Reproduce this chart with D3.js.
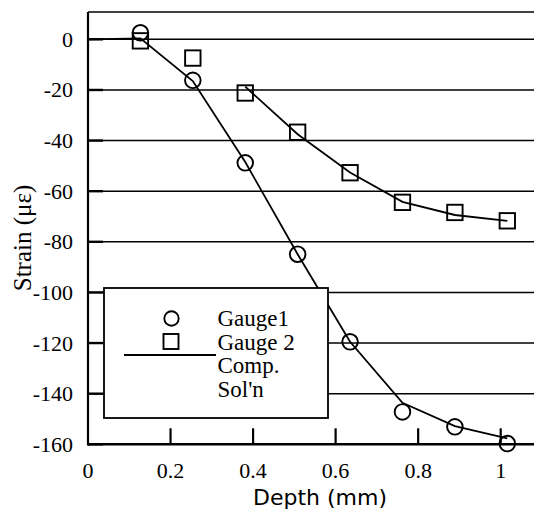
<!DOCTYPE html>
<html>
<head>
<meta charset="utf-8">
<script src="https://cdn.jsdelivr.net/npm/d3@7"></script>
<style>
  body { margin: 0; background: #fff; }
  svg { display: block; }
</style>
</head>
<body>
<svg></svg>
<script>
const width = 534;
const height = 514;

// measured depths (mm) and strains (micro-strain)
const depth = [0.127, 0.254, 0.381, 0.508, 0.635, 0.762, 0.889, 1.016];
const gauge1 = [2.6, -16.2, -48.8, -84.9, -119.5, -147.2, -153.1, -159.7];
const gauge2 = [-0.6, -7.4, -21.2, -36.7, -52.7, -64.4, -68.4, -71.7];

// computed solution
const compDepth1 = [0, 0.127, 0.254, 0.381, 0.508, 0.635, 0.762, 0.889, 1.016];
const comp1 = [0, 0.4, -16.5, -48.5, -84.9, -119.5, -143.6, -152.8, -157.7];
const compDepth2 = [0.381, 0.508, 0.635, 0.762, 0.889, 1.016];
const comp2 = [-18.7, -37.5, -52.6, -64.2, -69.4, -71.7];

const xTicks = [0, 0.2, 0.4, 0.6, 0.8, 1];
const yTicks = [0, -20, -40, -60, -80, -100, -120, -140, -160];
const legendLabels = ['Gauge1', 'Gauge 2', 'Comp.', "Sol'n"];

const serif = '"Liberation Serif", "Times New Roman", serif';
const sans = '"DejaVu Sans", sans-serif';

const svg = d3.select('svg').attr('width', width).attr('height', height);

const x = d3.scaleLinear().domain([0, 1.0807]).range([88, 534]);
const y = d3.scaleLinear().domain([-160, 10.8]).range([444.3, 12]);

// grid lines
svg.append('g')
    .selectAll('line')
    .data(yTicks.slice(0, -1))
    .join('line')
    .attr('x1', x(0)).attr('x2', width)
    .attr('y1', function (d) { return y(d); })
    .attr('y2', function (d) { return y(d); })
    .attr('stroke', '#000')
    .attr('stroke-width', 1.5);

// top frame line
svg.append('line')
    .attr('x1', x(0)).attr('x2', width)
    .attr('y1', y.range()[1]).attr('y2', y.range()[1])
    .attr('stroke', '#000').attr('stroke-width', 1.5);

// computed curves
const line = d3.line()
    .x(function (d) { return x(d[0]); })
    .y(function (d) { return y(d[1]); });

[d3.zip(compDepth1, comp1), d3.zip(compDepth2, comp2)].forEach(function (pts) {
    svg.append('path')
        .datum(pts)
        .attr('d', line)
        .attr('fill', 'none')
        .attr('stroke', '#000')
        .attr('stroke-width', 1.8);
});

// gauge 1 circles
svg.append('g')
    .selectAll('circle')
    .data(d3.zip(depth, gauge1))
    .join('circle')
    .attr('cx', function (d) { return x(d[0]); })
    .attr('cy', function (d) { return y(d[1]); })
    .attr('r', 7.8)
    .attr('fill', 'none')
    .attr('stroke', '#000')
    .attr('stroke-width', 1.9);

// gauge 2 squares
const sq = 15.4;
svg.append('g')
    .selectAll('rect')
    .data(d3.zip(depth, gauge2))
    .join('rect')
    .attr('x', function (d) { return x(d[0]) - sq / 2; })
    .attr('y', function (d) { return y(d[1]) - sq / 2; })
    .attr('width', sq).attr('height', sq)
    .attr('fill', 'none')
    .attr('stroke', '#000')
    .attr('stroke-width', 1.9);

// legend
const legend = svg.append('g');
legend.append('rect')
    .attr('x', 104).attr('y', 288)
    .attr('width', 224).attr('height', 130)
    .attr('fill', '#fff')
    .attr('stroke', '#000')
    .attr('stroke-width', 1.8);
legend.append('circle')
    .attr('cx', 171.5).attr('cy', 318.5).attr('r', 7.2)
    .attr('fill', 'none').attr('stroke', '#000').attr('stroke-width', 1.9);
legend.append('rect')
    .attr('x', 171 - 7.5).attr('y', 341.5 - 7.5)
    .attr('width', 15).attr('height', 15)
    .attr('fill', 'none').attr('stroke', '#000').attr('stroke-width', 1.9);
legend.append('line')
    .attr('x1', 124).attr('x2', 216)
    .attr('y1', 355).attr('y2', 355)
    .attr('stroke', '#000').attr('stroke-width', 1.8);
legend.selectAll('text')
    .data(legendLabels)
    .join('text')
    .attr('x', 217.5)
    .attr('y', function (d, i) { return 326 + i * 23.6; })
    .attr('font-family', serif)
    .attr('font-size', 23)
    .text(function (d) { return d; });

// axes lines
svg.append('line')
    .attr('x1', x(0)).attr('x2', x(0))
    .attr('y1', y.range()[1]).attr('y2', y(-160) + 1.2)
    .attr('stroke', '#000').attr('stroke-width', 2.2);
svg.append('line')
    .attr('x1', x(0)).attr('x2', width)
    .attr('y1', y(-160)).attr('y2', y(-160))
    .attr('stroke', '#000').attr('stroke-width', 2.5);

// y ticks and labels
svg.append('g')
    .selectAll('line')
    .data(yTicks)
    .join('line')
    .attr('x1', x(0)).attr('x2', x(0) + 15)
    .attr('y1', function (d) { return y(d); })
    .attr('y2', function (d) { return y(d); })
    .attr('stroke', '#000').attr('stroke-width', 2.4);
svg.append('g')
    .selectAll('text')
    .data(yTicks)
    .join('text')
    .attr('x', 73)
    .attr('y', function (d) { return y(d); })
    .attr('dy', '0.34em')
    .attr('text-anchor', 'end')
    .attr('font-family', serif)
    .attr('font-size', 22)
    .text(function (d) { return d; });

// x ticks and labels
svg.append('g')
    .selectAll('line')
    .data(xTicks.slice(1))
    .join('line')
    .attr('x1', function (d) { return x(d); })
    .attr('x2', function (d) { return x(d); })
    .attr('y1', y(-160)).attr('y2', y(-160) - 16)
    .attr('stroke', '#000').attr('stroke-width', 2.2);
svg.append('g')
    .selectAll('text')
    .data(xTicks)
    .join('text')
    .attr('x', function (d) { return x(d); })
    .attr('y', 477.5)
    .attr('text-anchor', 'middle')
    .attr('font-family', serif)
    .attr('font-size', 22)
    .text(function (d) { return d; });

// axis titles
svg.append('text')
    .attr('x', 320).attr('y', 505)
    .attr('text-anchor', 'middle')
    .attr('font-family', sans)
    .attr('font-size', 22)
    .text('Depth (mm)');
svg.append('text')
    .attr('transform', 'translate(31,238) rotate(-90)')
    .attr('text-anchor', 'middle')
    .attr('font-family', serif)
    .attr('font-size', 25)
    .text('Strain (με)');
</script>
</body>
</html>
